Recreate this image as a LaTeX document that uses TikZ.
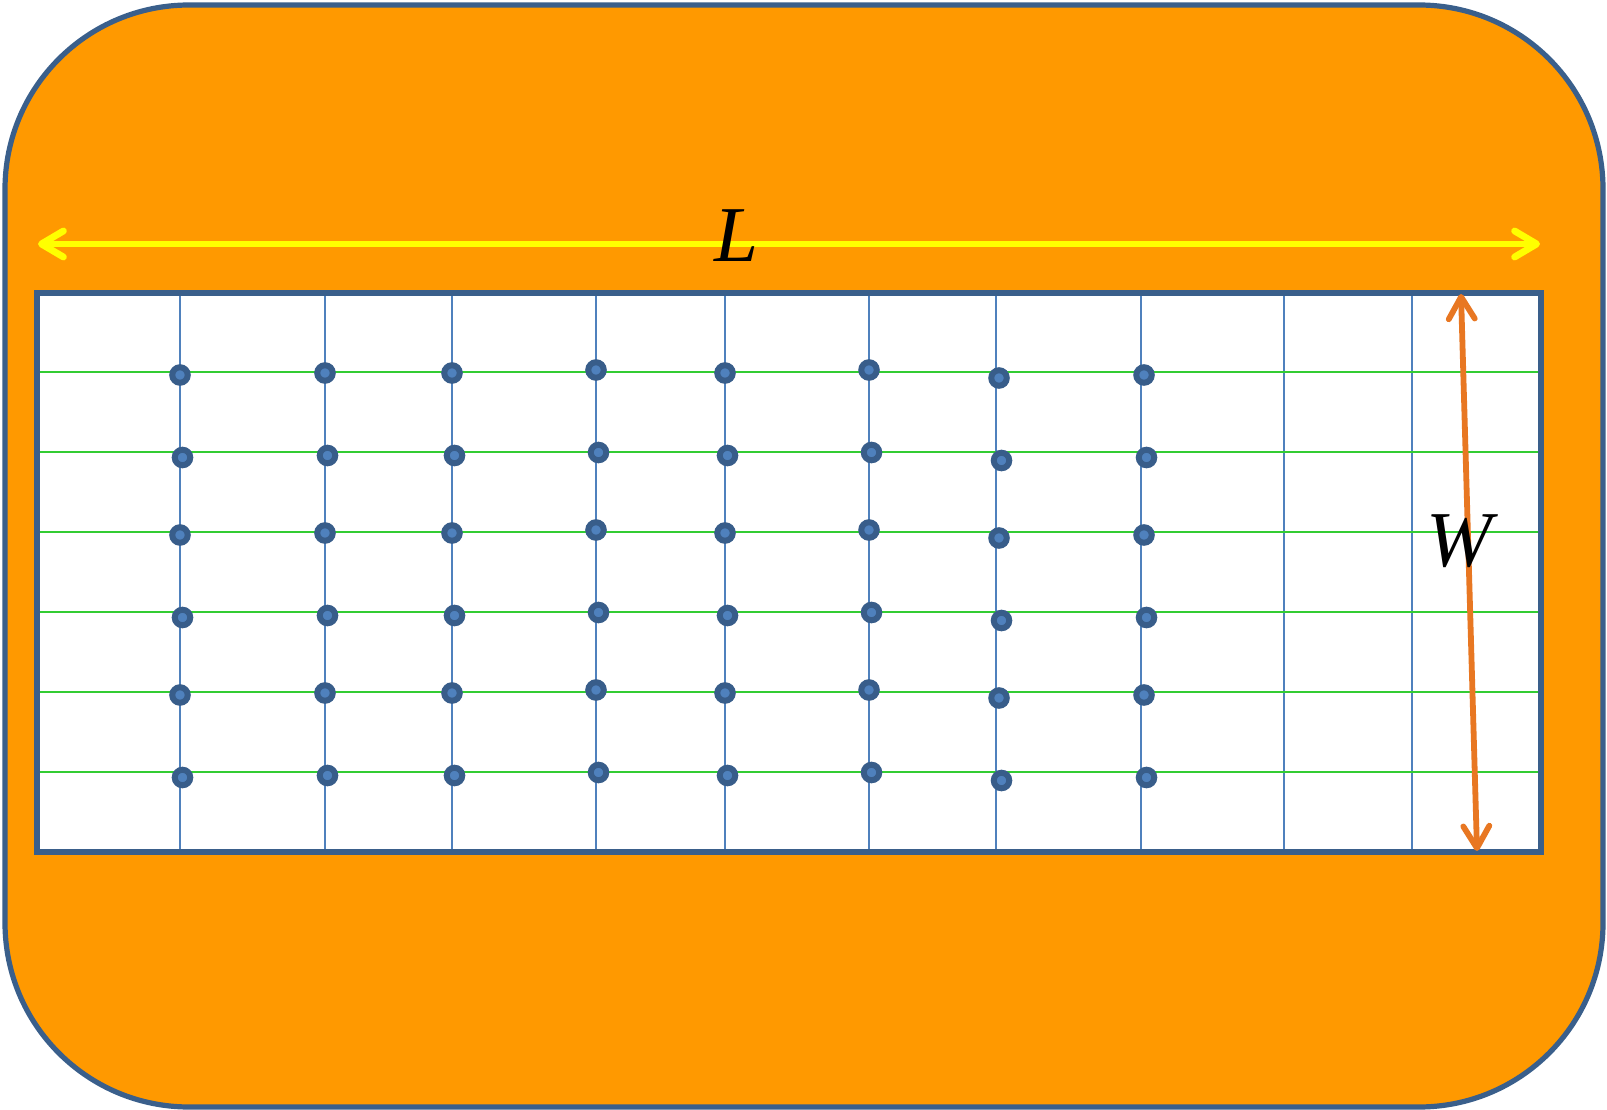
\documentclass[tikz,border=0pt]{standalone}
\usepackage{fontspec}
\setmainfont{Liberation Serif}
\usepackage{xcolor}
\usetikzlibrary{arrows.meta}
\definecolor{boxorange}{HTML}{FF9900}
\definecolor{frameblue}{HTML}{3A5F8B}
\definecolor{gridblue}{HTML}{4F81BD}
\definecolor{gridgreen}{HTML}{33CC33}
\definecolor{dotdark}{HTML}{385D8A}
\definecolor{arrowyellow}{HTML}{FFFF00}
\definecolor{arroworange}{HTML}{E87722}

\begin{document}
\begin{tikzpicture}[x=0.01cm,y=-0.01cm,
  frame/.style={draw=frameblue,line width=0.052cm},
  vline/.style={draw=gridblue,line width=0.024cm},
  hline/.style={draw=gridgreen,line width=0.024cm},
  dot/.style={circle,inner sep=0pt,minimum size=0.155cm,draw=dotdark,fill=gridblue,line width=0.06cm},
  dim/.style={line width=0.068cm,{Straight Barb[length=0.22cm,width=0.26cm,round]}-{Straight Barb[length=0.22cm,width=0.26cm,round]}},
  lbl/.style={font=\fontsize{22.5}{23}\selectfont\itshape,inner sep=0pt}]
  \useasboundingbox (0,0) rectangle (1607,1110);
  \draw[frame,fill=boxorange,rounded corners=1.84cm] (5,5) rectangle (1603,1107);
  \fill[white] (37,293) rectangle (1541,852);
  \foreach \x in {180,325,452,596,725,869,996,1141,1284,1412}
    \draw[vline] (\x,293) -- (\x,852);
  \foreach \y in {372,452,532,612,692,772}
    \draw[hline] (37,\y) -- (1541,\y);
  \draw[frame] (37,293) rectangle (1541,852);
  \foreach \cx/\dx/\dy [count=\i] in {180/0/3,325/0/1,452/0/1,596/0/-2,725/0/1,869/0/-2,996/3/6,1141/3/3}
    \foreach \ry/\e [count=\j] in {372/0,452/2.5,532/0,612/2.5,692/0,772/2.5}
      \node[dot] (d\i\j) at (\cx+\dx+\e,\ry+\dy+\e) {};
  \coordinate (Lleft) at (38,244);
  \coordinate (Lright) at (1540,244);
  \draw[dim,draw=arrowyellow] (Lleft) -- (Lright);
  \coordinate (Wtop) at (1461,294);
  \coordinate (Wbot) at (1477,851);
  \draw[dim,draw=arroworange,line width=0.058cm] (Wtop) -- (Wbot);
  \node[lbl] (Llabel) at (736,236) {L};
  \node[lbl] (Wlabel) at (1459,541) {W};
\end{tikzpicture}
\end{document}
